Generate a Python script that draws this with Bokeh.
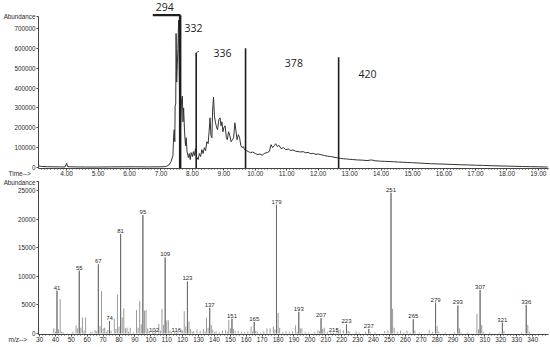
from bokeh.plotting import figure
from bokeh.layouts import column
from bokeh.models import Range1d, FixedTicker, ColumnDataSource, NumeralTickFormatter, Title
from bokeh.embed import file_html
from bokeh.resources import INLINE
from bokeh.core.properties import value

# ---------------- data: total ion chromatogram ----------------
tic_time = [3.12, 3.2, 3.4, 3.6, 3.8, 3.95, 4.0, 4.03, 4.3, 4.6, 5.0, 5.4, 5.8, 6.2, 6.6, 7.0, 7.15,
            7.25, 7.32, 7.38, 7.40, 7.42, 7.44, 7.45, 7.47, 7.48, 7.50, 7.52, 7.54, 7.56, 7.58, 7.60,
            7.62, 7.65, 7.68, 7.70, 7.72, 7.75, 7.78, 7.80, 7.83, 7.87, 7.90, 7.93, 7.96, 8.00, 8.03,
            8.06, 8.10, 8.13, 8.18, 8.22, 8.26, 8.30, 8.34, 8.38, 8.42, 8.46, 8.50, 8.53, 8.56, 8.59,
            8.62, 8.64, 8.67, 8.70, 8.73, 8.77, 8.80, 8.84, 8.88, 8.91, 8.94, 8.97, 9.00, 9.04, 9.08,
            9.11, 9.15, 9.19, 9.23, 9.27, 9.31, 9.35, 9.38, 9.42, 9.46, 9.50, 9.54, 9.58, 9.62, 9.66,
            9.72, 9.78, 9.85, 9.92, 10.00, 10.08, 10.15, 10.22, 10.30, 10.38, 10.45, 10.50, 10.55,
            10.60, 10.65, 10.70, 10.75, 10.82, 10.90, 10.97, 11.05, 11.12, 11.20, 11.28, 11.36, 11.45,
            11.52, 11.60, 11.68, 11.76, 11.85, 11.93, 12.00, 12.10, 12.20, 12.30, 12.40, 12.50, 12.60,
            12.70, 12.80, 12.90, 13.00, 13.10, 13.25, 13.40, 13.55, 13.70, 13.80, 13.95, 14.10, 14.25,
            14.40, 14.55, 14.70, 14.85, 15.00, 15.20, 15.40, 15.60, 15.80, 16.00, 16.25, 16.50, 16.75,
            17.00, 17.25, 17.50, 17.75, 18.00, 18.25, 18.50, 18.75, 19.00, 19.30]
tic_abund = [8000, 5000, 4000, 3500, 3000, 3000, 22000, 4000, 3000, 2500, 2500, 3000, 3500, 3500, 3000, 3500, 5000,
             12000, 30000, 60000, 150000, 190000, 130000, 310000, 320000, 675000, 430000, 520000, 600000, 742000, 500000, 250000,
             200000, 330000, 360000, 230000, 300000, 180000, 110000, 150000, 80000, 50000, 70000, 40000, 75000, 55000, 80000,
             60000, 95000, 55000, 40000, 70000, 55000, 90000, 70000, 100000, 85000, 130000, 120000, 180000, 250000, 160000,
             150000, 280000, 355000, 260000, 230000, 200000, 190000, 240000, 250000, 210000, 230000, 180000, 200000, 210000, 150000,
             140000, 180000, 160000, 130000, 140000, 150000, 225000, 190000, 140000, 165000, 150000, 110000, 100000, 105000, 90000,
             85000, 80000, 75000, 78000, 70000, 65000, 68000, 62000, 72000, 75000, 82000, 115000, 100000,
             110000, 120000, 105000, 112000, 95000, 100000, 90000, 93000, 86000, 88000, 82000, 80000, 78000,
             80000, 74000, 76000, 70000, 71000, 66000, 68000, 64000, 60000, 57000, 55000, 52000, 49000,
             46000, 44000, 43000, 41000, 40000, 38000, 37000, 35000, 38000, 34000, 32000, 31000, 30000,
             29000, 27500, 26500, 25000, 24000, 22500, 20500, 19000, 18000, 17000, 15500, 14000, 13000,
             11500, 10500, 9000, 8000, 7000, 6000, 5000, 4200, 3500, 2500]

# annotation markers on the chromatogram
mark_text = ["294", "332", "336", "378", "420"]
mark_text_x = [6.83, 7.75, 8.67, 10.94, 13.28]
mark_text_y = [806000, 700000, 579000, 528700, 473300]
line_x = [7.61, 8.12, 9.69, 12.65]
line_top = [766800, 577500, 600700, 555400]
line_w = [2.5, 1.6, 1.6, 1.6]
bar_x0 = [6.74]
bar_x1 = [7.62]
bar_y = [766800]
hook_x0 = [8.12]
hook_y0 = [577500]
hook_x1 = [8.21]
hook_y1 = [586000]

# ---------------- data: mass spectrum ----------------
ms_mz = [39, 40, 41, 42, 43, 44, 45, 51, 53, 54, 55, 56, 57, 58, 59, 62, 63, 65, 66, 67, 68, 69, 70, 71, 72, 73,
         74, 75, 77, 78, 79, 80, 81, 82, 83, 84, 85, 86, 87, 89, 91, 92, 93, 94, 95, 96, 97, 98, 99, 101, 102,
         103, 105, 106, 107, 108, 109, 110, 111, 112, 113, 115, 116, 117, 119, 120, 121, 122, 123, 124, 125, 126,
         127, 129, 131, 133, 134, 135, 136, 137, 138, 139, 140, 141, 143, 145, 147, 148, 149, 150, 151, 152, 153,
         155, 157, 159, 161, 163, 164, 165, 166, 167, 169, 171, 173, 175, 177, 178, 179, 180, 181, 183, 185, 187,
         189, 191, 192, 193, 194, 195, 197, 199, 203, 205, 206, 207, 208, 209, 211, 213, 215, 217, 218, 219, 221,
         223, 224, 225, 229, 231, 235, 237, 238, 241, 247, 249, 251, 252, 253, 255, 257, 259, 261, 263, 265, 266,
         269, 275, 277, 279, 280, 281, 285, 291, 293, 294, 295, 299, 305, 306, 307, 308, 309, 313, 319, 321, 322,
         333, 336, 337, 338]
ms_int = [900, 300, 7500, 700, 6000, 300, 200, 300, 1400, 900, 11000, 1000, 2800, 500, 2800, 200, 300, 600, 400, 12100,
          1300, 7400, 900, 1000, 300, 600, 2200, 500, 2600, 800, 6800, 1200, 17400, 2800, 4400, 900, 1000, 300, 1000,
          200, 4100, 1000, 5700, 1600, 20700, 4000, 4100, 900, 400, 300, 100, 600, 1700, 500, 4300, 1500, 13300, 2300,
          2300, 500, 300, 300, 100, 300, 700, 500, 3900, 1200, 9100, 2100, 800, 300, 400, 700, 500, 800, 300, 2800, 1000,
          4500, 1500, 700, 200, 400, 300, 500, 600, 300, 2400, 900, 2600, 800, 400, 500, 300, 300, 400, 1200, 300, 2000,
          500, 300, 200, 400, 900, 900, 1200, 700, 22500, 3600, 1000, 300, 400, 300, 400, 1400, 300, 3800, 900, 900, 300,
          200, 300, 600, 400, 2700, 800, 1000, 300, 200, 100, 900, 300, 700, 600, 1600, 500, 300, 400, 200, 300, 800,
          200, 200, 400, 500, 24600, 4300, 1000, 300, 500, 200, 500, 200, 2500, 500, 200, 600, 300, 5400, 1300, 300,
          200, 200, 4900, 900, 200, 200, 3400, 700, 7600, 1500, 300, 200, 200, 1900, 400, 200, 5000, 1500, 300]
label_mz = [41, 55, 67, 74, 81, 95, 102, 109, 116, 123, 137, 151, 165, 179, 193, 207, 215, 223, 237, 251,
            265, 279, 293, 307, 321, 336]

# ticks and tick labels
time_ticks = [4, 5, 6, 7, 8, 9, 10, 11, 12, 13, 14, 15, 16, 17, 18, 19]
tic_yticks = [0, 100000, 200000, 300000, 400000, 500000, 600000, 700000]
tic_abund_label_pos = 762000
mz_ticks = [30, 40, 50, 60, 70, 80, 90, 100, 110, 120, 130, 140, 150, 160, 170, 180, 190, 200,
            210, 220, 230, 240, 250, 260, 270, 280, 290, 300, 310, 320, 330, 340]
ms_yticks = [0, 5000, 10000, 15000, 20000, 25000]
ms_abund_label_pos = 26500

AX = "#444444"
TXT = "#2a2a2a"
FONT = "Liberation Sans"


def style(p):
    p.xgrid.visible = False
    p.ygrid.visible = False
    p.outline_line_color = None
    p.background_fill_color = "white"
    p.border_fill_color = "white"
    for ax in (p.xaxis[0], p.yaxis[0]):
        ax.axis_line_color = AX
        ax.axis_line_width = 1
        ax.major_tick_line_color = AX
        ax.minor_tick_line_color = AX
        ax.major_label_text_font = FONT
        ax.major_label_text_color = TXT
        ax.major_tick_in = 0
        ax.minor_tick_in = 0
    p.xaxis[0].major_label_text_font_size = "6.5px"
    p.yaxis[0].major_label_text_font_size = "6.3px"
    p.xaxis[0].major_tick_out = 2
    p.xaxis[0].minor_tick_out = 1
    p.xaxis[0].major_label_standoff = 0
    p.yaxis[0].major_tick_out = 2
    p.yaxis[0].minor_tick_out = 0
    p.yaxis[0].major_label_standoff = 1


def corner_title(p, text):
    p.add_layout(Title(text=text, align="left", offset=-30, standoff=-17, vertical_align="top",
                       text_font=FONT, text_font_size="6.5px", text_font_style="normal",
                       text_color=TXT), "below")


# ---------------- top: chromatogram ----------------
p1 = figure(width=550, height=178, x_range=Range1d(3.105, 19.324), y_range=Range1d(-5035, 840900),
            output_backend="svg", toolbar_location=None,
            min_border_left=35, min_border_right=2, min_border_top=0, min_border_bottom=10)
style(p1)
p1.xaxis[0].ticker = FixedTicker(ticks=time_ticks,
                                 minor_ticks=[3.2 + 0.1 * i for i in range(162)])
p1.xaxis[0].formatter = NumeralTickFormatter(format="0.00")
p1.yaxis[0].ticker = FixedTicker(ticks=tic_yticks + [tic_abund_label_pos])
p1.yaxis[0].formatter = NumeralTickFormatter(format="0")
p1.yaxis[0].major_label_overrides = {tic_abund_label_pos: "Abundance"}
p1.yaxis[0].bounds = (-5035, tic_abund_label_pos)

p1.line(tic_time, tic_abund, line_color="#333333", line_width=1)

src_lines = ColumnDataSource(dict(x=line_x, top=line_top, w=line_w, b=[-5035] * len(line_x)))
p1.segment(x0="x", y0="b", x1="x", y1="top", line_width="w", line_color="#1e1e1e", source=src_lines)
p1.segment(x0=bar_x0, y0=bar_y, x1=bar_x1, y1=bar_y, line_width=2.2, line_color="#1e1e1e")
p1.segment(x0=hook_x0, y0=hook_y0, x1=hook_x1, y1=hook_y1, line_width=1, line_color="#555555")
p1.text(x=mark_text_x, y=mark_text_y, text=mark_text, text_font=value("Open Sans"),
        text_font_size="10.5px", text_color="#1e1e1e", text_align="left", text_baseline="middle")
corner_title(p1, "Time-->")

# ---------------- bottom: mass spectrum ----------------
p2 = figure(width=550, height=169, x_range=Range1d(29.375, 350), y_range=Range1d(-175, 27100),
            output_backend="svg", toolbar_location=None,
            min_border_left=35, min_border_right=2, min_border_top=0, min_border_bottom=13)
style(p2)
p2.xaxis[0].ticker = FixedTicker(ticks=mz_ticks, minor_ticks=list(range(30, 350, 2)))
p2.yaxis[0].ticker = FixedTicker(ticks=ms_yticks + [ms_abund_label_pos])
p2.yaxis[0].formatter = NumeralTickFormatter(format="0")
p2.yaxis[0].major_label_overrides = {ms_abund_label_pos: "Abundance"}
p2.yaxis[0].bounds = (-175, ms_abund_label_pos)

zero = [0] * len(ms_mz)
p2.segment(x0=ms_mz, y0=zero, x1=ms_mz, y1=ms_int, line_width=1, line_color="#9a9a9a")

lookup = dict(zip(ms_mz, ms_int))
lab_val = [lookup[m] for m in label_mz]
p2.segment(x0=label_mz, y0=[0] * len(label_mz), x1=label_mz, y1=lab_val, line_width=1, line_color="#6a6a6a")
p2.text(x=label_mz, y=lab_val, text=[str(m) for m in label_mz], text_font=value(FONT),
        text_font_size="6px", text_color=TXT, text_align="center", text_baseline="bottom", y_offset=-1)
corner_title(p2, "m/z-->")

layout = column(p1, p2, spacing=0)
open("out.html", "w").write(file_html(layout, INLINE))
